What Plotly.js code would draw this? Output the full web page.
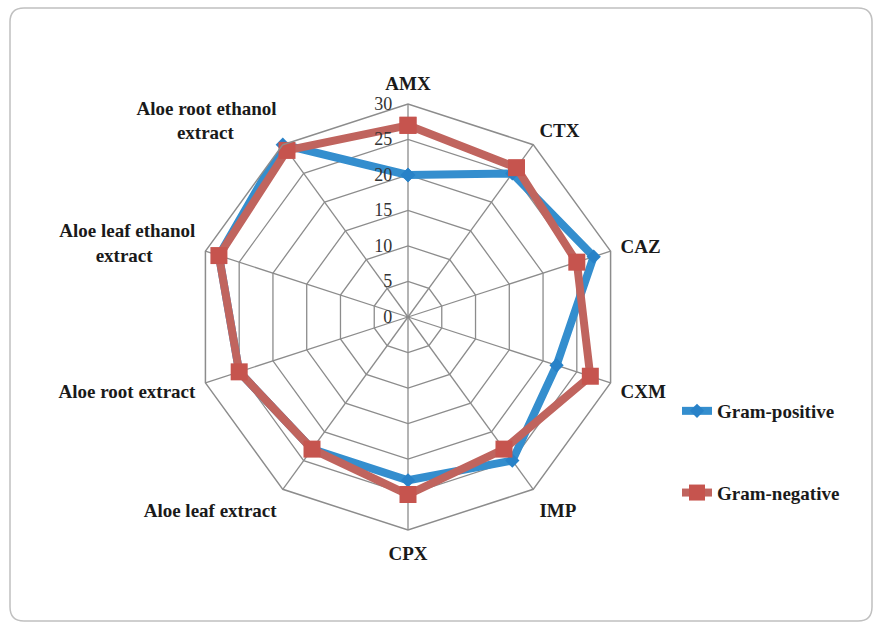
<!DOCTYPE html>
<html>
<head>
<meta charset="utf-8">
<script src="https://cdn.plot.ly/plotly-3.0.1.min.js"></script>
<style>html,body{margin:0;padding:0;background:#fff;}#chart{width:882px;height:625px;}</style>
</head>
<body>
<div id="chart"></div>
<script>
const categories = ['AMX','CTX','CAZ','CXM','IMP','CPX','Aloe leaf extract','Aloe root extract','Aloe leaf ethanol extract','Aloe root ethanol extract'];
const categoryLabels = ['AMX','CTX','CAZ','CXM','IMP','CPX','Aloe leaf extract','Aloe root extract','Aloe leaf ethanol<br>extract\u00a0\u00a0\u00a0\u00a0\u00a0\u00a0\u00a0\u00a0\u00a0','Aloe root ethanol<br>extract\u00a0\u00a0\u00a0\u00a0\u00a0\u00a0\u00a0\u00a0\u00a0'];
const gramPositive = [20,25,27.5,22,25,23,23,25,28,30];
const gramNegative = [27,26,25,27,23,25,23,25,28,29];
const radialTicks = [0,5,10,15,20,25,30];

function closeLoop(a){ return a.concat([a[0]]); }

const W = 882, H = 625;
const cx = 408, cy = 317, R = 213;

const traces = [
  {
    type:'scatterpolar', name:'Gram-positive', legendgroup:'a',
    theta: closeLoop(categories), r: closeLoop(gramPositive),
    mode:'lines+markers',
    line:{color:'rgb(52,142,206)', width:8},
    marker:{symbol:'diamond', size:11, color:'rgb(40,130,200)'}
  },
  {
    type:'scatterpolar', name:'Gram-negative', legendgroup:'b',
    theta: closeLoop(categories), r: closeLoop(gramNegative),
    mode:'lines+markers',
    line:{color:'rgb(192,100,94)', width:8},
    marker:{symbol:'square', size:17, color:'rgb(198,84,78)'}
  }
];

// rounded frame
const x0=10/W, x1=872/W, y0=1-621/H, y1=1-8/H, rx=14/W, ry=14/H;
const framePath = `M ${x0+rx} ${y1} L ${x1-rx} ${y1} Q ${x1} ${y1} ${x1} ${y1-ry} L ${x1} ${y0+ry} Q ${x1} ${y0} ${x1-rx} ${y0} L ${x0+rx} ${y0} Q ${x0} ${y0} ${x0} ${y0+ry} L ${x0} ${y1-ry} Q ${x0} ${y1} ${x0+rx} ${y1} Z`;

const layout = {
  width: W, height: H,
  margin:{l:0,r:0,t:0,b:0},
  paper_bgcolor:'#fff',
  showlegend:true,
  font:{family:'Liberation Serif, Times New Roman, serif', color:'#1a1a1a'},
  polar:{
    domain:{x:[(cx-R)/W,(cx+R)/W], y:[1-(cy+R)/H, 1-(cy-R)/H]},
    gridshape:'linear',
    bgcolor:'rgba(0,0,0,0)',
    angularaxis:{
      rotation:90, direction:'clockwise',
      categoryorder:'array', categoryarray:categories,
      tickmode:'array', tickvals:categories, ticktext:categoryLabels,
      tickfont:{family:'Liberation Serif, serif', size:19, color:'#1a1a1a', weight:'bold'},
      linecolor:'#8c8c8c', linewidth:1.5,
      gridcolor:'#8c8c8c', gridwidth:1.3,
      ticks:'outside', ticklen:6, tickcolor:'rgba(0,0,0,0)', showline:true
    },
    radialaxis:{
      range:[0,30], tickvals:radialTicks, ticktext:radialTicks.map(String),
      angle:90, tickangle:90, side:'counterclockwise',
      showline:false, ticks:'outside', ticklen:9, tickcolor:'rgba(0,0,0,0)',
      gridcolor:'#8c8c8c', gridwidth:1.3,
      tickfont:{family:'Liberation Serif, serif', size:18, color:'#333'}
    }
  },
  legend:{
    x:677/W, y:1-392/H, xanchor:'left', yanchor:'top',
    font:{family:'Liberation Serif, serif', size:19, color:'#1a1a1a', weight:'bold'},
    tracegroupgap:54, bgcolor:'rgba(0,0,0,0)'
  },
  shapes:[{type:'path', xref:'paper', yref:'paper', path:framePath, line:{color:'#c0c0c0', width:1.5}, fillcolor:'rgba(0,0,0,0)'}]
};

Plotly.newPlot('chart', traces, layout, {displayModeBar:false, staticPlot:true});
</script>
</body>
</html>
